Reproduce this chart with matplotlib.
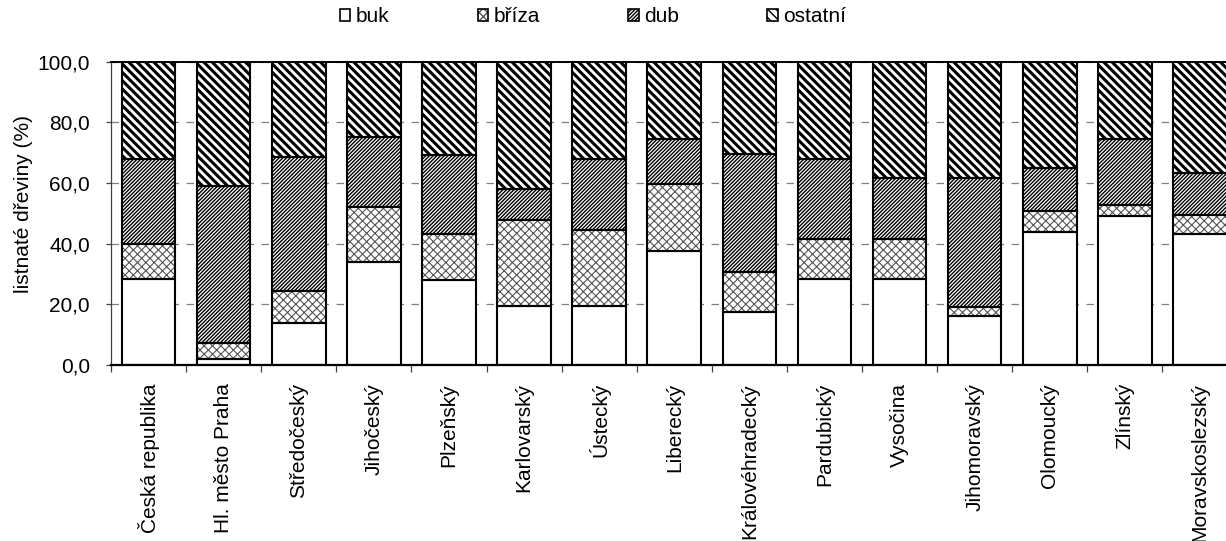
import matplotlib
matplotlib.use('Agg')
import matplotlib.pyplot as plt
import numpy as np
from matplotlib.patches import Patch
from matplotlib.ticker import FuncFormatter, FixedLocator

categories = ["Česká republika", "Hl. město Praha", "Středočeský", "Jihočeský", "Plzeňský",
              "Karlovarský", "Ústecký", "Liberecký", "Královéhradecký", "Pardubický",
              "Vysočina", "Jihomoravský", "Olomoucký", "Zlínský", "Moravskoslezský"]
buk = [28.3, 1.9, 14.0, 34.0, 28.0, 19.6, 19.6, 37.6, 17.4, 28.3, 28.3, 16.3, 44.0, 49.0, 43.3]
briza = [11.6, 5.4, 10.4, 18.2, 15.3, 28.2, 24.8, 22.1, 13.2, 13.1, 13.1, 2.9, 6.9, 3.8, 6.3]
dub = [28.0, 51.7, 44.3, 23.0, 26.1, 10.2, 23.5, 14.9, 39.1, 26.5, 20.3, 42.5, 14.2, 21.8, 13.8]
ostatni = [32.1, 41.0, 31.3, 24.8, 30.6, 42.0, 32.1, 25.4, 30.3, 32.1, 38.3, 38.3, 34.9, 25.4, 36.6]
series_names = ["buk", "bříza", "dub", "ostatní"]
yticks = [0, 20, 40, 60, 80, 100]
ylabel = "listnaté dřeviny (%)"

plt.rcParams['font.family'] = ['Liberation Sans', 'DejaVu Sans']

W, H = 1226, 541
fig = plt.figure(figsize=(W / 100, H / 100), dpi=100)
ax = fig.add_axes([111 / W, 1 - 365 / H, 1126.5 / W, 303.3 / H])

styles = [(None, 'black', 1.0),
          ('xxxx', '#555555', 0.8),
          ('/' * 9, 'black', 1.0),
          ('\\' * 4, 'black', 2.2)]
series = [buk, briza, dub, ostatni]
x = np.arange(len(categories))
bw = 0.714
bottom = np.zeros(len(categories))
handles = []
for vals, name, (h, hc, hlw) in zip(series, series_names, styles):
    vals = np.array(vals)
    with plt.rc_context({'hatch.linewidth': hlw}):
        hb = ax.bar(x, vals, bottom=bottom, width=bw, color='white', edgecolor=hc,
                    hatch=h, linewidth=0, zorder=2)
        for p in hb:
            if hasattr(p, 'set_hatch_linewidth'):
                p.set_hatch_linewidth(hlw)
        ax.bar(x, vals, bottom=bottom, width=bw, fill=False, edgecolor='black',
               linewidth=1.5, zorder=3)
        hp = Patch(facecolor='white', edgecolor=hc, hatch=h, linewidth=0)
        if hasattr(hp, 'set_hatch_linewidth'):
            hp.set_hatch_linewidth(hlw)
    op = Patch(facecolor='none', edgecolor='black', linewidth=1.2)
    handles.append((hp, op))
    bottom = bottom + vals

ax.set_xlim(-0.5, len(categories) - 0.5)
ax.set_ylim(0, 100)
ax.set_axisbelow(True)
ax.yaxis.set_major_locator(FixedLocator(yticks))
ax.yaxis.set_major_formatter(FuncFormatter(lambda v, p: f"{v:.1f}".replace('.', ',')))
ax.yaxis.grid(True, linestyle=(0, (6, 6)), color='#808080', linewidth=0.9, zorder=0)

ax.set_xticks(x)
ax.set_xticklabels(categories, rotation=90, fontsize=15, va='top', ha='center')
ax.set_xticks(np.arange(-0.5, len(categories)), minor=True)
ax.tick_params(axis='x', which='major', length=0, pad=13)
ax.tick_params(axis='x', which='minor', length=5, width=0.9, color='#404040', direction='out')
ax.tick_params(axis='y', which='major', length=3.6, width=0.9, color='#404040', direction='out',
               pad=11.5, labelsize=15)

ax.spines['top'].set_color('black')
ax.spines['top'].set_linewidth(1.4)
ax.spines['bottom'].set_color('black')
ax.spines['bottom'].set_linewidth(1.6)
ax.spines['left'].set_color('#404040')
ax.spines['left'].set_linewidth(0.9)
ax.spines['right'].set_visible(False)

fig.text(24 / W, 1 - 204 / H, ylabel, rotation=90, ha='center', va='center', fontsize=15)

fig.legend(handles, series_names, loc='center', bbox_to_anchor=(593 / W, 1 - 17 / H),
           ncol=4, frameon=False, fontsize=15, handlelength=0.5, handleheight=0.5,
           handletextpad=0.25, columnspacing=4.25, borderpad=0, borderaxespad=0)

fig.savefig('out.png', dpi=100)
